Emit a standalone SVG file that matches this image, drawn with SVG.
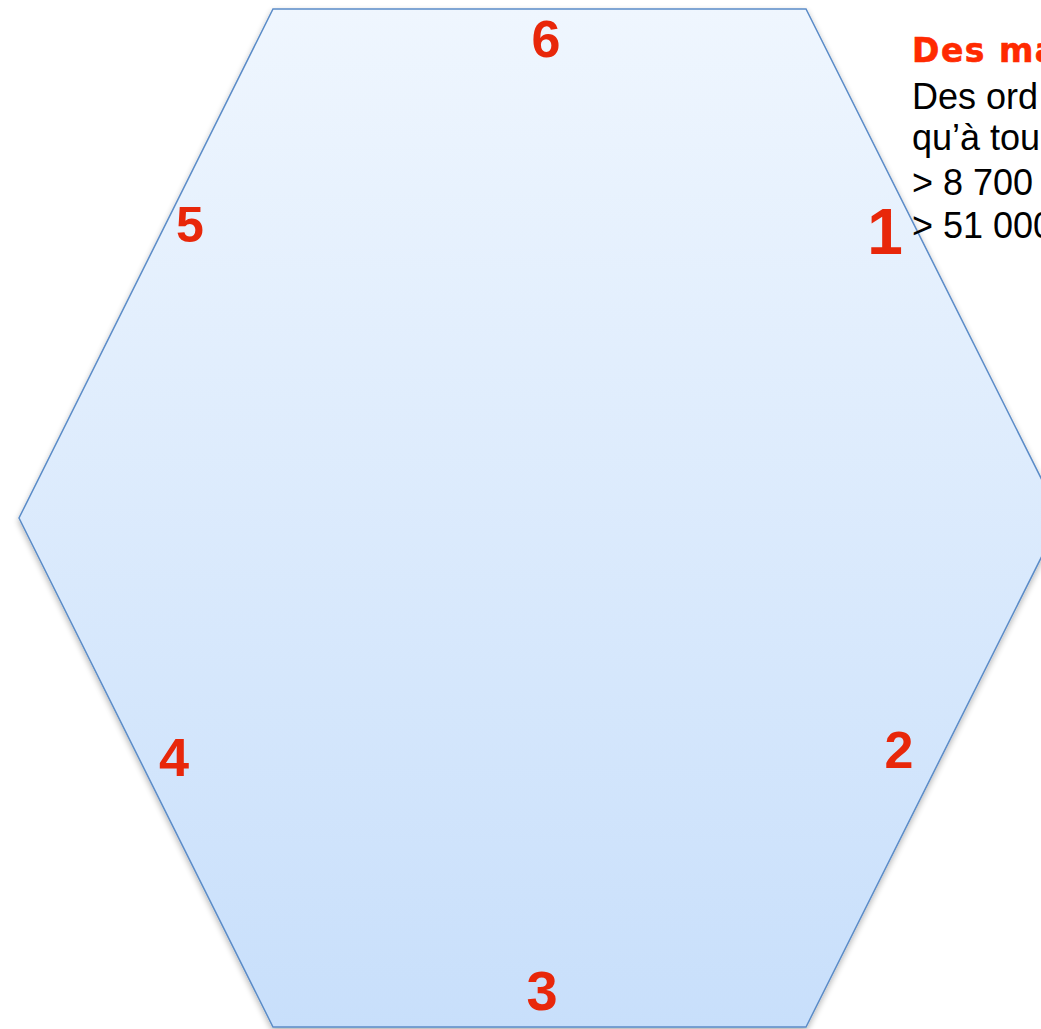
<svg xmlns="http://www.w3.org/2000/svg" width="1041" height="1029" viewBox="0 0 1041 1029">
<style>
.num{font-family:"Liberation Sans",Arial,sans-serif;font-weight:bold;fill:#e8270a;text-anchor:middle}
.body{font-family:"Liberation Sans",Arial,sans-serif;font-size:36px;fill:#000}
.title{font-family:"DejaVu Sans","Liberation Sans",sans-serif;font-weight:900;font-size:33px;letter-spacing:1.5px;fill:#ff2a00;stroke:#ff2a00;stroke-width:0.6px}
</style>
<defs>
<linearGradient id="g" x1="0" y1="0" x2="0" y2="1">
<stop offset="0" stop-color="#eff6fe"/>
<stop offset="1" stop-color="#c8dffb"/>
</linearGradient>
<filter id="sh" x="-10%" y="-10%" width="120%" height="120%">
<feGaussianBlur in="SourceAlpha" stdDeviation="3"/>
<feOffset dx="0" dy="3" result="b"/>
<feComponentTransfer><feFuncA type="linear" slope="0.3"/></feComponentTransfer>
<feMerge><feMergeNode/><feMergeNode in="SourceGraphic"/></feMerge>
</filter>
</defs>
<g id="hexagon">
<polygon points="273,9 806,9 1061,518 806,1027 273,1027 19,518" fill="url(#g)" stroke="#5b8cc8" stroke-width="1.5" filter="url(#sh)"/>
</g>
<g id="labels">
<text class="num" x="546" y="57" font-size="52">6</text>
<text class="num" x="190" y="242" font-size="50">5</text>
<text class="num" x="885" y="254" font-size="64">1</text>
<text class="num" x="174" y="776" font-size="54">4</text>
<text class="num" x="899" y="768" font-size="52">2</text>
<text class="num" x="542" y="1010" font-size="56">3</text>
</g>
<g id="callout">
<text class="title" x="912" y="62">Des ma</text>
<text class="body" x="912" y="109">Des ord</text>
<text class="body" x="912" y="150">qu’à tou</text>
<text class="body" x="912" y="195">&gt; 8 700</text>
<text class="body" x="912" y="238">&gt; 51 000</text>
</g>
</svg>
